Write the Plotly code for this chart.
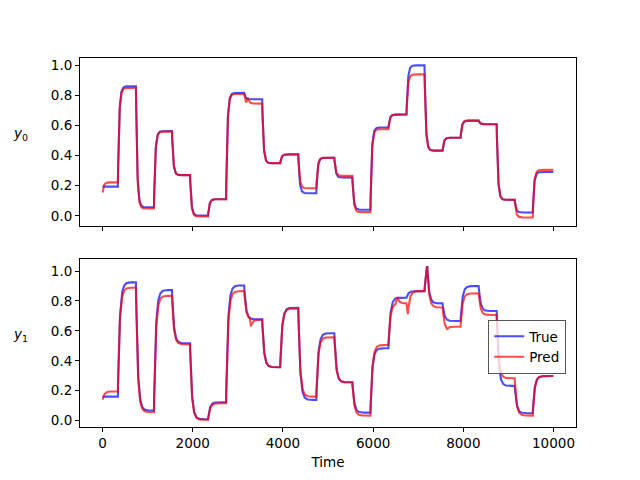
import numpy as np
import plotly.graph_objects as go
from plotly.subplots import make_subplots

# ---- data ----
step_times = [0, 336, 736, 1136, 1536, 1936, 2336, 2736, 3136, 3536, 3936, 4336,
              4736, 5136, 5536, 5936, 6336, 6736, 7136, 7536, 7936, 8336, 8736, 9136, 9536]
t_end = 9999

y0_true_levels = [0.194, 0.861, 0.057, 0.563, 0.270, 0.002, 0.110, 0.817, 0.775, 0.349, 0.408, 0.150,
                  0.386, 0.254, 0.040, 0.587, 0.673, 1.000, 0.433, 0.519, 0.631, 0.609, 0.106, 0.022, 0.291]
y0_pred_levels = [0.222, 0.850, 0.048, 0.560, 0.270, -0.005, 0.110, 0.810, 0.746, 0.350, 0.408, 0.183,
                  0.386, 0.265, 0.024, 0.576, 0.673, 0.940, 0.433, 0.519, 0.635, 0.609, 0.106, -0.011, 0.305]
y0_true_start = 0.194
y0_pred_start = 0.155

y1_true_levels = [0.160, 0.925, 0.067, 0.873, 0.517, 0.009, 0.123, 0.904, 0.677, 0.357, 0.755, 0.138,
                  0.584, 0.256, 0.053, 0.484, 0.822, 0.866, 0.784, 0.666, 0.900, 0.733, 0.232, 0.049, 0.298]
y1_pred_levels = [0.195, 0.889, 0.056, 0.835, 0.510, 0.005, 0.116, 0.866, 0.675, 0.357, 0.750, 0.160,
                  0.557, 0.256, 0.033, 0.506, 0.784, 0.866, 0.757, 0.628, 0.851, 0.706, 0.283, 0.033, 0.298]
y1_true_start = 0.160
y1_pred_start = 0.140

# short excursions (start, end, level) seen in the picture
y0_true_pulses = []
y0_pred_pulses = [(3195, 3225, 0.80)]
y1_true_pulses = [(7136, 7196, 1.08)]
y1_pred_pulses = [(3270, 3290, 0.55), (6500, 6535, 0.86), (6736, 6766, 0.65),
                  (7136, 7196, 1.08), (7536, 7640, 0.600)]

tick_vals = [0, 2000, 4000, 6000, 8000, 10000]
tick_text = ["0", "2000", "4000", "6000", "8000", "10000"]
y_ticks = [0.0, 0.2, 0.4, 0.6, 0.8, 1.0]

time = np.arange(0, t_end + 1, 5)


def response(levels, start, pulses, tau):
    target = np.empty(len(time))
    for i, t0 in enumerate(step_times):
        target[time >= t0] = levels[i]
    for (a, b, lv) in pulses:
        target[(time >= a) & (time < b)] = lv
    y = np.empty(len(time))
    y[0] = start
    k = 5.0 / tau
    for i in range(1, len(time)):
        y[i] = y[i - 1] + (target[i - 1] - y[i - 1]) * k
    return y


y0_true = response(y0_true_levels, y0_true_start, y0_true_pulses, 30)
y0_pred = response(y0_pred_levels, y0_pred_start, y0_pred_pulses, 30)
y1_true = response(y1_true_levels, y1_true_start, y1_true_pulses, 42)
y1_pred = response(y1_pred_levels, y1_pred_start, y1_pred_pulses, 42)

BLUE = "rgba(0,0,255,0.7)"
RED = "rgba(255,0,0,0.7)"
FONT = "DejaVu Sans"
FS = 13.5

fig = make_subplots(rows=2, cols=1, shared_xaxes=True, vertical_spacing=0.0909)

fig.add_trace(go.Scatter(x=time, y=y0_true, mode="lines", line=dict(color=BLUE, width=2.1),
                         name="True", showlegend=True), row=1, col=1)
fig.add_trace(go.Scatter(x=time, y=y0_pred, mode="lines", line=dict(color=RED, width=2.1),
                         name="Pred", showlegend=True), row=1, col=1)
fig.add_trace(go.Scatter(x=time, y=y1_true, mode="lines", line=dict(color=BLUE, width=2.1),
                         name="True", showlegend=False), row=2, col=1)
fig.add_trace(go.Scatter(x=time, y=y1_pred, mode="lines", line=dict(color=RED, width=2.1),
                         name="Pred", showlegend=False), row=2, col=1)

axis_common = dict(showline=True, linecolor="black", linewidth=1, mirror=True,
                   ticks="outside", ticklen=4, tickwidth=1, tickcolor="black",
                   showgrid=False, zeroline=False, automargin=False,
                   tickfont=dict(family=FONT, size=FS, color="black"))

fig.update_xaxes(range=[-500, 10499], tickvals=tick_vals, ticktext=tick_text, **axis_common)
fig.update_xaxes(showticklabels=False, row=1, col=1)
fig.update_xaxes(title=dict(text="Time", font=dict(family=FONT, size=FS, color="black"), standoff=7),
                 row=2, col=1)
fig.update_yaxes(tickvals=y_ticks, tickformat=".1f", **axis_common)
fig.update_yaxes(range=[-0.066, 1.049], domain=[0.5455, 1.0], row=1, col=1)
fig.update_yaxes(range=[-0.043, 1.079], domain=[0.0, 0.4545], row=2, col=1)

fig.add_annotation(text="<i>y</i><sub>0</sub>", xref="paper", yref="paper",
                   x=-0.12, y=0.795, showarrow=False, xanchor="center", yanchor="middle",
                   font=dict(family=FONT, size=FS, color="black"))
fig.add_annotation(text="<i>y</i><sub>1</sub>", xref="paper", yref="paper",
                   x=-0.12, y=0.25, showarrow=False, xanchor="center", yanchor="middle",
                   font=dict(family=FONT, size=FS, color="black"))

# the page adds an 8px body margin, so the figure margins are reduced by 8px
fig.update_layout(
    width=640, height=480,
    margin=dict(l=72, r=72, t=49.6, b=60.8),
    paper_bgcolor="white", plot_bgcolor="white",
    font=dict(family=FONT, size=FS, color="black"),
    legend=dict(x=0.823, y=0.29, xanchor="left", yanchor="top",
                bgcolor="rgba(255,255,255,0.8)", bordercolor="#555555", borderwidth=1,
                font=dict(family=FONT, size=FS, color="black"),
                tracegroupgap=0, itemwidth=30),
)

fig.write_html("out.html")
